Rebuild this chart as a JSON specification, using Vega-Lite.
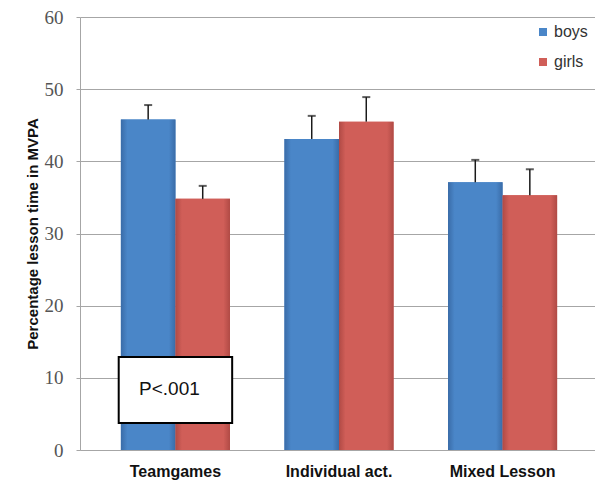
{
  "$schema": "https://vega.github.io/schema/vega-lite/v6.json",
  "width": 518,
  "height": 433,
  "autosize": {"type": "none"},
  "padding": {"left": 80, "top": 17, "right": 0, "bottom": 33},
  "background": "white",
  "config": {
    "view": {"stroke": null},
    "font": "Liberation Sans"
  },
  "datasets": {
    "bars": [
      {"activity": "Teamgames", "sex": "boys", "mean": 45.8, "upper": 47.8},
      {"activity": "Teamgames", "sex": "girls", "mean": 34.8, "upper": 36.6},
      {"activity": "Individual act.", "sex": "boys", "mean": 43.1, "upper": 46.3},
      {"activity": "Individual act.", "sex": "girls", "mean": 45.5, "upper": 48.9},
      {"activity": "Mixed Lesson", "sex": "boys", "mean": 37.1, "upper": 40.2},
      {"activity": "Mixed Lesson", "sex": "girls", "mean": 35.3, "upper": 38.9}
    ],
    "note": [
      {"activity": "Teamgames", "low": 3.74, "high": 12.9, "mid": 8.45, "label": "P<.001"}
    ]
  },
  "encoding": {
    "x": {
      "field": "activity",
      "type": "nominal",
      "sort": ["Teamgames", "Individual act.", "Mixed Lesson"],
      "scale": {"paddingInner": 0.333, "paddingOuter": 0.25},
      "axis": {
        "title": null,
        "labelAngle": 0,
        "labelFont": "Liberation Sans",
        "labelFontSize": 16,
        "labelFontWeight": "bold",
        "labelColor": "#111111",
        "labelPadding": 13,
        "ticks": false,
        "domainColor": "#a6a6a6",
        "domainWidth": 1
      }
    }
  },
  "layer": [
    {
      "data": {"name": "bars"},
      "mark": {"type": "bar"},
      "encoding": {
        "xOffset": {
          "field": "sex",
          "type": "nominal",
          "scale": {"paddingInner": 0, "paddingOuter": 0}
        },
        "y": {
          "field": "mean",
          "type": "quantitative",
          "scale": {"domain": [0, 60]},
          "axis": {
            "title": "Percentage lesson time in MVPA",
            "titleFont": "Liberation Sans",
            "titleFontSize": 15,
            "titleFontWeight": "bold",
            "titleColor": "#111111",
            "titlePadding": 4,
            "values": [0, 10, 20, 30, 40, 50, 60],
            "labelFont": "Liberation Serif",
            "labelFontSize": 19,
            "labelColor": "#555555",
            "labelPadding": 13,
            "tickSize": 4,
            "tickColor": "#a6a6a6",
            "domainColor": "#a6a6a6",
            "gridColor": "#a6a6a6",
            "gridWidth": 1,
            "grid": true
          }
        },
        "color": {
          "field": "sex",
          "type": "nominal",
          "scale": {
            "domain": ["boys", "girls"],
            "range": ["#4a86c8", "#d05e58"]
          },
          "legend": {
            "title": null,
            "orient": "none",
            "legendX": 455,
            "legendY": 7,
            "symbolType": "square",
            "symbolSize": 64,
            "symbolStrokeWidth": 0,
            "labelFont": "Liberation Sans",
            "labelFontSize": 16,
            "labelColor": "#333333",
            "labelOffset": 3,
            "rowPadding": 14,
            "padding": 0
          }
        }
      }
    },
    {
      "data": {"name": "bars"},
      "mark": {"type": "bar"},
      "encoding": {
        "xOffset": {"field": "sex", "type": "nominal", "scale": {"paddingInner": 0, "paddingOuter": 0}},
        "y": {"field": "mean", "type": "quantitative"},
        "fill": {
          "condition": {
            "test": "datum.sex === 'boys'",
            "value": {"gradient": "linear", "x1": 0, "y1": 0, "x2": 1, "y2": 0,
              "stops": [
                {"offset": 0, "color": "#3a6ca8"},
                {"offset": 0.12, "color": "#4a86c8"},
                {"offset": 0.88, "color": "#4a86c8"},
                {"offset": 1, "color": "#3a6ca8"}
              ]}
          },
          "value": {"gradient": "linear", "x1": 0, "y1": 0, "x2": 1, "y2": 0,
            "stops": [
              {"offset": 0, "color": "#b04a45"},
              {"offset": 0.12, "color": "#d05e58"},
              {"offset": 0.88, "color": "#d05e58"},
              {"offset": 1, "color": "#b04a45"}
            ]}
        }
      }
    },
    {
      "data": {"name": "bars"},
      "mark": {"type": "rule", "color": "#1a1a1a", "strokeWidth": 1.5},
      "encoding": {
        "xOffset": {"field": "sex", "type": "nominal", "scale": {"paddingInner": 0, "paddingOuter": 0}},
        "y": {"field": "mean", "type": "quantitative"},
        "y2": {"field": "upper"}
      }
    },
    {
      "data": {"name": "bars"},
      "mark": {"type": "tick", "color": "#1a1a1a", "size": 8, "thickness": 2, "orient": "horizontal"},
      "encoding": {
        "xOffset": {"field": "sex", "type": "nominal", "scale": {"paddingInner": 0, "paddingOuter": 0}},
        "y": {"field": "upper", "type": "quantitative"}
      }
    },
    {
      "data": {"name": "note"},
      "mark": {"type": "bar", "fill": "white", "stroke": "black", "strokeWidth": 2, "width": {"band": 1.04}},
      "encoding": {
        "y": {"field": "low", "type": "quantitative"},
        "y2": {"field": "high"}
      }
    },
    {
      "data": {"name": "note"},
      "mark": {"type": "text", "font": "Liberation Sans", "fontSize": 19, "color": "#111111", "dx": -6, "baseline": "middle"},
      "encoding": {
        "y": {"field": "mid", "type": "quantitative"},
        "text": {"field": "label"}
      }
    }
  ]
}
